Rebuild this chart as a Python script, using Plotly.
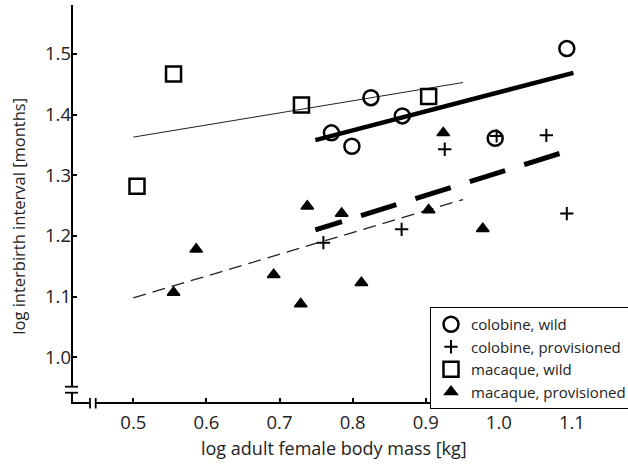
import plotly.graph_objects as go

# ---------------- data ----------------
colobine_wild_x = [0.771, 0.799, 0.825, 0.868, 0.995, 1.093]
colobine_wild_y = [1.370, 1.348, 1.428, 1.398, 1.361, 1.509]

colobine_prov_x = [0.760, 0.867, 0.926, 0.997, 1.065, 1.093]
colobine_prov_y = [1.189, 1.211, 1.343, 1.365, 1.366, 1.237]

macaque_wild_x = [0.505, 0.555, 0.730, 0.904]
macaque_wild_y = [1.282, 1.467, 1.416, 1.430]

macaque_prov_x = [0.555, 0.586, 0.692, 0.729, 0.738, 0.785, 0.812, 0.904, 0.924, 0.978]
macaque_prov_y = [1.107, 1.178, 1.136, 1.088, 1.249, 1.237, 1.123, 1.243, 1.370, 1.212]

# regression line end points (x, y)
fit_macaque_wild_x = [0.500, 0.951]
fit_macaque_wild_y = [1.363, 1.453]
fit_colobine_wild_x = [0.749, 1.102]
fit_colobine_wild_y = [1.358, 1.469]
fit_colobine_prov_x = [1.083, 0.749]   # drawn right-to-left so the dash pattern starts at the right end
fit_colobine_prov_y = [1.336, 1.210]
fit_macaque_prov_x = [0.500, 0.951]
fit_macaque_prov_y = [1.098, 1.260]

x_ticks = [0.5, 0.6, 0.7, 0.8, 0.9, 1.0, 1.1]
y_ticks = [1.0, 1.1, 1.2, 1.3, 1.4, 1.5]

FONT = "Open Sans"
TXT = "#222"
W, H = 628, 467
ML, MR, MT, MB = 72, 0, 5, 64
PW, PH = W - ML - MR, H - MT - MB


def px_x(px):
    return (px - ML) / PW


def px_y(py):
    return (H - MB - py) / PH


fig = go.Figure()

# fit lines
fig.add_trace(go.Scatter(x=fit_macaque_wild_x, y=fit_macaque_wild_y, mode="lines",
                         line=dict(color="#222", width=1), showlegend=False, hoverinfo="skip"))
fig.add_trace(go.Scatter(x=fit_colobine_wild_x, y=fit_colobine_wild_y, mode="lines",
                         line=dict(color="black", width=4.5), showlegend=False, hoverinfo="skip"))
fig.add_trace(go.Scatter(x=fit_colobine_prov_x, y=fit_colobine_prov_y, mode="lines",
                         line=dict(color="black", width=5, dash="37px,20px"), showlegend=False,
                         hoverinfo="skip"))
fig.add_trace(go.Scatter(x=fit_macaque_prov_x, y=fit_macaque_prov_y, mode="lines",
                         line=dict(color="#222", width=1.3, dash="13px,7px"), showlegend=False,
                         hoverinfo="skip"))

# points
fig.add_trace(go.Scatter(x=colobine_wild_x, y=colobine_wild_y, mode="markers", name="colobine, wild",
                         marker=dict(symbol="circle-open", size=15, color="black",
                                     line=dict(width=2.5, color="black"))))
fig.add_trace(go.Scatter(x=colobine_prov_x, y=colobine_prov_y, mode="markers", name="colobine, provisioned",
                         marker=dict(symbol="cross-thin-open", size=9.5, color="black",
                                     line=dict(width=2, color="black"))))
fig.add_trace(go.Scatter(x=macaque_wild_x, y=macaque_wild_y, mode="markers", name="macaque, wild",
                         marker=dict(symbol="square-open", size=15, color="black",
                                     line=dict(width=2.5, color="black"))))
fig.add_trace(go.Scatter(x=macaque_prov_x, y=macaque_prov_y, mode="markers", name="macaque, provisioned",
                         marker=dict(symbol="triangle-up", size=11, color="black",
                                     line=dict(width=1.5, color="black"))))

# axes drawn as shapes (with breaks)
axis_w = 2
shapes = [
    # y axis with gap
    dict(type="line", xref="paper", yref="paper", x0=0, x1=0, y0=1, y1=px_y(386.7),
         line=dict(color="black", width=axis_w)),
    dict(type="line", xref="paper", yref="paper", x0=0, x1=0, y0=px_y(392.7), y1=0,
         line=dict(color="black", width=axis_w)),
    dict(type="line", xref="paper", yref="paper", x0=px_x(65), x1=px_x(78), y0=px_y(386.7), y1=px_y(386.7),
         line=dict(color="black", width=1.8)),
    dict(type="line", xref="paper", yref="paper", x0=px_x(65), x1=px_x(78), y0=px_y(392.7), y1=px_y(392.7),
         line=dict(color="black", width=1.8)),
    # x axis with gap
    dict(type="line", xref="paper", yref="paper", x0=px_x(71), x1=px_x(90), y0=0, y1=0,
         line=dict(color="black", width=axis_w)),
    dict(type="line", xref="paper", yref="paper", x0=px_x(95.7), x1=1, y0=0, y1=0,
         line=dict(color="black", width=axis_w)),
    dict(type="line", xref="paper", yref="paper", x0=px_x(90), x1=px_x(90), y0=px_y(398), y1=px_y(408.5),
         line=dict(color="black", width=1.8)),
    dict(type="line", xref="paper", yref="paper", x0=px_x(95.7), x1=px_x(95.7), y0=px_y(398), y1=px_y(408.5),
         line=dict(color="black", width=1.8)),
]

annotations = [
    dict(text="log adult female body mass [kg]", xref="paper", yref="paper",
         x=px_x(333.5), y=px_y(448), xanchor="center", yanchor="middle", showarrow=False,
         font=dict(family=FONT, size=18, color=TXT)),
    dict(text="log interbirth interval [months]", xref="paper", yref="paper",
         x=px_x(19), y=px_y(216.7), xanchor="center", yanchor="middle", showarrow=False,
         textangle=-90, font=dict(family=FONT, size=16.5, color=TXT)),
]

fig.update_layout(
    width=W, height=H,
    margin=dict(l=ML, r=MR, t=MT, b=MB, autoexpand=False),
    paper_bgcolor="white", plot_bgcolor="white",
    font=dict(family=FONT, color=TXT),
    shapes=shapes, annotations=annotations,
    legend=dict(x=px_x(430), y=px_y(307), xanchor="left", yanchor="top",
                bgcolor="white", bordercolor="black", borderwidth=1,
                font=dict(family=FONT, size=15, color=TXT),
                tracegroupgap=0, itemsizing="trace"),
)
fig.update_xaxes(range=[0.4161, 1.1767], tickvals=x_ticks, ticktext=[f"{v:.1f}" for v in x_ticks],
                 ticks="inside", ticklen=5, tickwidth=1.5, tickcolor="black",
                 showline=False, showgrid=False, zeroline=False, ticklabelstandoff=6,
                 tickfont=dict(family=FONT, size=18.5, color=TXT))
fig.update_yaxes(range=[0.9247, 1.5808], tickvals=y_ticks, ticktext=[f"{v:.1f}" for v in y_ticks],
                 ticks="inside", ticklen=5, tickwidth=1.5, tickcolor="black",
                 showline=False, showgrid=False, zeroline=False,
                 tickfont=dict(family=FONT, size=18.5, color=TXT))

fig.write_html("out.html")
